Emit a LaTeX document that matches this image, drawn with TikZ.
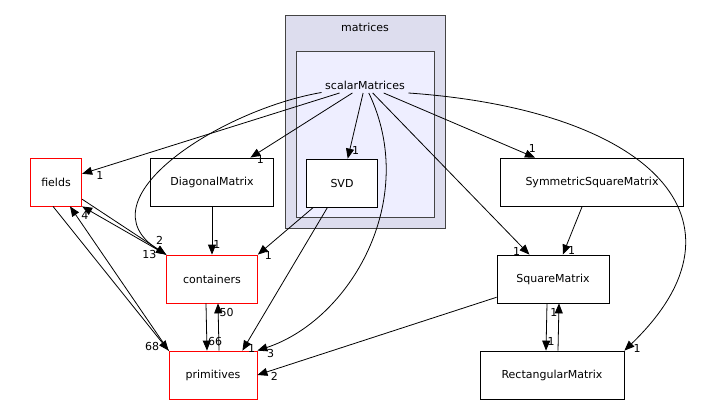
\documentclass[tikz,border=0pt]{standalone}
\usepackage{fontspec}
\setmainfont{DejaVu Sans}
\usetikzlibrary{arrows.meta, positioning}

\begin{document}
\begin{tikzpicture}[
            x = 1pt, y = -1pt,
            > = {Triangle[length=10pt, width=8pt]},
            auto,
            font = \fontsize{11}{13}\selectfont,
            thick
        ]

        \tikzstyle{dir}=[
            draw = black,
            fill = white,
            minimum height = 48pt,
            inner xsep = 11pt
        ]
        \tikzstyle{ext}=[
            draw = {rgb,255:red,255;green,0;blue,0},
            fill = white,
            minimum height = 48pt,
            inner xsep = 11pt
        ]
        \tikzset{every edge/.append style={->}}
        \tikzset{num/.style={font=\fontsize{11}{13}\selectfont, inner sep=1pt}}

        \useasboundingbox (0,0) rectangle (718,404);

        % clusters
        \draw[fill={rgb,255:red,221;green,221;blue,238}, draw={rgb,255:red,68;green,68;blue,68}] (285,15) rectangle (445,228);
        \node at (365,27) {matrices};
        \draw[fill={rgb,255:red,238;green,238;blue,255}, draw={rgb,255:red,68;green,68;blue,68}] (296,51) rectangle (434,217);

        \node (scalar) at (365,85) {scalarMatrices};
        \node[dir, minimum width=71pt] (svd) at (342,183) {SVD};
        \node[dir, minimum width=123pt] (diag) at (212,182) {DiagonalMatrix};
        \node[dir, minimum width=183pt] (sym) at (592,182) {SymmetricSquareMatrix};
        \node[dir, minimum width=112pt] (sq) at (553,279) {SquareMatrix};
        \node[dir, minimum width=144pt] (rect) at (552,375) {RectangularMatrix};

        \path (scalar) edge node[num, pos=0.95] {1} (diag);
        \path (scalar) edge node[num, pos=0.8] {1} (svd);
        \path (scalar) edge node[num, pos=0.95] {1} (sym);
        \path (scalar) edge node[num, pos=0.95, swap] {1} (sq);
        \draw[->] (scalar.south east) .. controls (650,110) and (760,220) .. node[num, pos=0.98] {1} (rect.north east);
        \path (sym) edge node[num, pos=0.8] {1} (sq);
        \path ([xshift=-6pt]sq.south) edge node[num, pos=0.8] {1} ([xshift=-6pt]rect.north);
        \path ([xshift=6pt]rect.north) edge node[num, pos=0.8] {1} ([xshift=6pt]sq.south);

        \node[ext, minimum width=42pt] (fields) at (56,182) {fields};
        \node[ext, minimum width=91pt] (cont) at (212,279) {containers};
        \node[ext, minimum width=88pt] (prim) at (213,375) {primitives};

        \path (scalar) edge node[num, pos=0.95] {1} (fields);
        \draw[->] (scalar) .. controls (220,110) and (80,200) .. node[num, pos=0.95] {2} (cont.north west);
        \draw[->] (scalar) .. controls (420,200) and (350,320) .. node[num, pos=0.97] {3} (prim.north east);
        \path (fields) edge node[num, pos=0.9, swap] {13} (cont.north west);
        \draw[->] (cont.north west) -- (fields.south east);
        \path ([xshift=-3pt]fields.south) edge node[num, pos=0.93, swap] {68} (prim.north west);
        \path (prim.north west) edge node[num, pos=0.9, swap] {4} ([xshift=14pt]fields.south);
        \path (diag) edge node[num, pos=0.8] {1} (cont);
        \path (svd) edge node[num, pos=0.9] {1} (cont.north east);
        \path (svd) edge node[num, pos=0.95] {1} ([xshift=-15pt]prim.north east);
        \path ([xshift=-6pt]cont.south) edge node[num, pos=0.8] {66} ([xshift=-6pt]prim.north);
        \path ([xshift=6pt]prim.north) edge node[num, pos=0.8, swap] {50} ([xshift=6pt]cont.south);
        \path (sq) edge node[num, pos=0.95] {2} (prim.east);

    \end{tikzpicture}
\end{document}
